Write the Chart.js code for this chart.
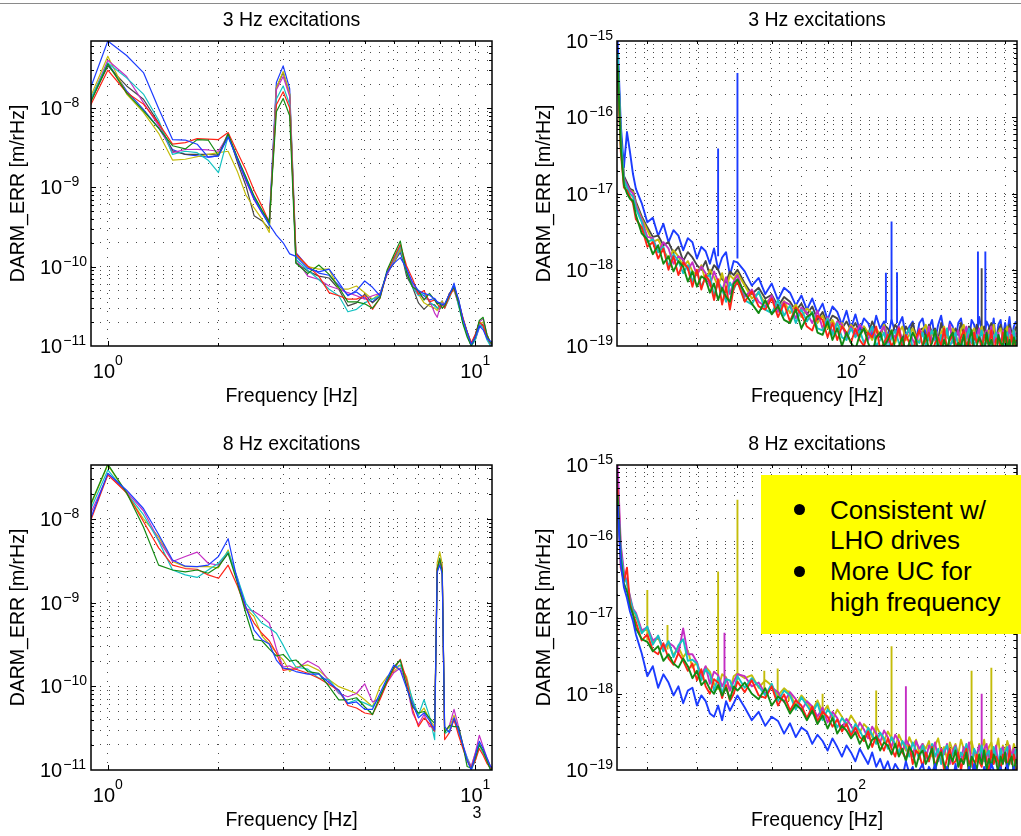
<!DOCTYPE html>
<html>
<head>
<meta charset="utf-8">
<script src="https://cdn.jsdelivr.net/npm/chart.js@4.4.1/dist/chart.umd.min.js"></script>
<style>
  body { margin: 0; background: #fff; width: 1021px; height: 836px; overflow: hidden; position: relative;
         font-family: "Liberation Sans", Arial, Helvetica, sans-serif; }
  canvas { position: absolute; left: 0; top: 0; }
  #rule { position: absolute; left: 0; top: 3px; width: 1021px; height: 1px; background: #8a8a8a; }
  #note { position: absolute; left: 761px; top: 475px; width: 260px; height: 159px; background: #ffff00; }
  #note .dot { position: absolute; left: 33px; width: 11px; height: 11px; border-radius: 50%; background: #000; }
  #note .ln { position: absolute; left: 69px; font-size: 26px; line-height: 30px; white-space: nowrap; color: #000; }
</style>
</head>
<body>
<div id="rule"></div>
<canvas id="tl" width="1021" height="836"></canvas>
<canvas id="tr" width="1021" height="836"></canvas>
<canvas id="bl" width="1021" height="836"></canvas>
<canvas id="br" width="1021" height="836"></canvas>
<div id="note">
  <div class="dot" style="top:29px"></div>
  <div class="dot" style="top:91px"></div>
  <div class="ln" style="top:20px">Consistent w/</div>
  <div class="ln" style="top:50px">LHO drives</div>
  <div class="ln" style="top:81px">More UC for</div>
  <div class="ln" style="top:112px">high frequency</div>
</div>
<script>
// ---- low frequency panels: frequency bins [Hz], amplitudes in units of 1e-11 m/rHz
const freqLow = [0.875, 1, 1.125, 1.25, 1.375, 1.5, 1.625, 1.75, 1.875, 2,
  2.125, 2.25, 2.375, 2.5, 2.625, 2.75, 2.875, 3, 3.125, 3.25,
  3.5, 3.75, 4, 4.25, 4.5, 4.75, 5, 5.25, 5.5, 5.75,
  6, 6.25, 6.5, 6.75, 7, 7.25, 7.5, 7.75, 7.875, 8,
  8.125, 8.25, 8.5, 8.75, 9, 9.25, 9.5, 9.75, 10, 10.25,
  10.5, 10.75, 11, 11.25];

// 3 Hz excitations
const tlBlueRef = [1300, 7000, 4600, 2800, 985, 400, 395, 350, 240, 250,
  430, 230, 125, 72, 48, 34, 25, 20, 14.5, 13.5,
  9.5, 8.6, 9.3, 6.3, 4.3, 5.0, 6.6, 5.5, 4.3, 8.5,
  11, 13, 9.5, 6.3, 5.0, 4.6, 4.4, 3.9, 3.6, 3.5,
  3.3, 3.4, 4.5, 5.8, 3.9, 2.2, 1.5, 1.05, 1.3, 1.8,
  1.6, 1.25, 1.15, 1.1];
const tlGreen = [900, 3600, 1550, 920, 560, 335, 305, 400, 395, 250,
  470, 240, 135, 78, 52, 36, 900, 1320, 800, 11,
  8.2, 10.5, 8, 5.5, 3.6, 3.6, 3.4, 3.0, 4.0, 9.0,
  14, 21, 8.5, 5.5, 5.0, 3.8, 4.6, 3.8, 3.4, 3.5,
  3.0, 3.2, 4.5, 5.5, 3.5, 1.9, 1.3, 1.0, 1.3, 2.1,
  2.3, 1.4, 1.1, 1.0];
const tlRed = [850, 3000, 1570, 1120, 640, 350, 366, 411, 405, 400,
  490, 280, 165, 92, 58, 36, 1100, 1600, 1000, 14.5,
  10.2, 7.6, 4.7, 4.3, 3.9, 3.9, 4.3, 2.9, 4.0, 8.5,
  13, 19, 10.2, 7.0, 4.5, 5.0, 3.6, 3.8, 3.4, 3.1,
  3.3, 3.0, 4.2, 5.4, 3.6, 2.3, 1.5, 1.1, 1.4, 2.0,
  1.8, 1.3, 1.1, 1.1];
const tlCyan = [1000, 3700, 2400, 1500, 700, 260, 285, 274, 220, 153,
  440, 235, 135, 75, 50, 33, 1300, 1900, 1100, 12.4,
  9, 6.9, 5.2, 4.3, 2.7, 2.9, 3.5, 3.9, 4.3, 8.4,
  12.4, 18, 8.4, 5.5, 4.3, 4.6, 3.6, 3.2, 3.0, 3.3,
  3.4, 3.0, 4.0, 5.8, 3.2, 2.0, 1.4, 1.0, 1.2, 1.9,
  1.7, 1.2, 1.0, 1.1];
const tlMagenta = [950, 4000, 2500, 1170, 600, 274, 300, 302, 296, 285,
  455, 235, 120, 70, 48, 34, 1700, 2500, 1400, 12.4,
  7.6, 6.9, 5.7, 5.2, 4.7, 4.3, 3.9, 4.3, 4.6, 8.0,
  12, 18, 9, 5.8, 4.5, 4.0, 3.8, 2.6, 2.3, 3.0,
  3.5, 3.2, 4.6, 5.2, 3.3, 2.1, 1.4, 1.0, 1.3, 2.0,
  2.2, 1.4, 1.05, 1.1];
const tlYellow = [1050, 4500, 1500, 880, 480, 221, 226, 243, 260, 274,
  285, 160, 80, 55, 40, 27, 1800, 2900, 1500, 14,
  10, 9.3, 9.3, 5.2, 5.2, 5.7, 4.7, 3.9, 4.6, 8.2,
  11.2, 16.6, 9.3, 5.6, 4.5, 3.5, 3.2, 3.0, 2.8, 3.3,
  3.7, 3.1, 4.6, 5.0, 3.4, 2.2, 1.5, 1.1, 1.2, 1.9,
  2.0, 1.4, 1.1, 1.0];
const tlGray = [950, 3400, 1900, 1290, 650, 288, 261, 261, 261, 255,
  480, 210, 105, 44, 38, 30, 1800, 2800, 1500, 11.2,
  8.8, 7.6, 7.2, 5.2, 3.2, 3.5, 4.5, 3.5, 4.2, 8.5,
  11, 16.6, 7.6, 5.5, 3.5, 2.9, 3.4, 3.3, 3.0, 2.9,
  3.3, 3.2, 4.6, 5.5, 3.8, 2.2, 1.5, 1.05, 1.4, 2.0,
  1.8, 1.3, 1.0, 1.0];
const tlBlue = [950, 3700, 1650, 960, 560, 300, 260, 250, 240, 250,
  450, 225, 125, 72, 50, 38, 2100, 3400, 1750, 15,
  10, 8.3, 7.8, 5.8, 4.4, 4.8, 4.0, 3.6, 4.4, 8.0,
  11.5, 15, 9, 5.8, 4.8, 4.3, 3.8, 4.0, 3.6, 3.4,
  3.7, 3.2, 4.3, 6.2, 3.6, 2.0, 1.4, 1.0, 1.2, 1.7,
  1.9, 1.3, 1.05, 1.2];

// 8 Hz excitations
const blBlue = [750, 3500, 2200, 1330, 650, 323, 272, 269, 280, 355,
  580, 186, 89, 47, 36, 32, 20.6, 16.5, 16, 15,
  14, 14, 11, 9, 6.2, 6.5, 5.3, 5.3, 8.2, 12.5,
  18, 15.5, 9.5, 6.2, 4.2, 4.8, 3.9, 3.0, 230, 280,
  220, 3.3, 2.8, 4.2, 3.0, 2.0, 1.3, 1.0, 1.5, 2.2,
  1.8, 1.4, 1.1, 1.0];
const blGreen = [1150, 4500, 2050, 800, 280, 245, 233, 245, 224, 269,
  388, 175, 74, 36, 35, 28, 23, 24, 20, 20.6,
  15, 14.3, 9.9, 6.9, 6.9, 7.3, 5.7, 4.6, 7.5, 11.5,
  17, 20.6, 9.9, 5.7, 4.8, 5.0, 4.2, 3.6, 250, 340,
  240, 2.8, 3.4, 3.3, 3.3, 2.0, 1.1, 1.05, 1.4, 2.0,
  1.7, 1.3, 1.0, 1.05];
const blRed = [700, 3350, 2050, 930, 450, 280, 255, 250, 214, 195,
  280, 160, 85, 57, 43, 35, 25, 15.5, 16, 16,
  14.3, 12.5, 10.5, 9, 5.9, 5.5, 4.8, 4.6, 6.9, 11,
  16, 21, 11.9, 5.3, 3.3, 4.2, 3.6, 2.9, 260, 320,
  250, 2.3, 2.8, 4.0, 2.6, 1.8, 1.3, 1.05, 1.3, 1.8,
  1.5, 1.2, 1.05, 1.0];
const blCyan = [1000, 3840, 2024, 1120, 540, 245, 214, 200, 245, 295,
  405, 200, 98, 74, 57, 50, 43, 31, 22, 17,
  16, 12.5, 12, 8.5, 6.3, 6.9, 6.3, 5.7, 7.5, 12,
  16.5, 18, 12, 6.9, 4.5, 6.9, 4.4, 2.3, 240, 300,
  240, 2.7, 3.0, 4.0, 2.8, 1.9, 1.4, 1.0, 1.3, 2.0,
  1.6, 1.3, 1.0, 1.0];
const blMagenta = [900, 3350, 2100, 1250, 560, 310, 355, 400, 295, 280,
  390, 200, 85, 78, 68, 57, 28, 17, 17.5, 16,
  20, 17, 11.5, 8.2, 7.5, 8.2, 10.7, 6.5, 7.2, 11,
  14.5, 16.5, 10.5, 4.8, 3.5, 4.6, 3.3, 3.3, 250, 330,
  260, 2.9, 3.4, 5.3, 3.3, 2.0, 1.4, 1.1, 1.6, 2.6,
  1.9, 1.4, 1.1, 1.05];
const blYellow = [1100, 4400, 2000, 1000, 610, 310, 269, 269, 269, 260,
  425, 186, 85, 68, 40, 32, 25, 20.6, 15, 17,
  18, 15.5, 12, 9.9, 9.0, 8.2, 6.9, 5.7, 9.9, 13,
  15, 18, 13, 6.5, 4.6, 5.5, 4.0, 3.3, 300, 405,
  290, 3.0, 3.2, 4.5, 3.0, 1.9, 1.3, 1.1, 1.6, 2.1,
  1.6, 1.25, 1.05, 1.0];

// ---- high frequency panels: frequency [Hz], amplitudes in units of 1e-20 m/rHz
const freqHigh = [35, 35.5, 36, 36.5, 37, 37.5, 38,
  39, 40, 41, 42, 43, 44, 45, 46, 47, 48, 49, 50, 51, 52, 53, 54, 55, 56, 57, 58, 59, 60,
  62, 64, 66, 68, 70, 72, 74, 76, 78, 80, 82,
  84, 86, 88, 90, 92, 94, 96, 98, 100,
  102, 104, 106, 108, 110, 112, 114, 116, 118,
  120, 122, 124, 126, 128, 130, 132, 134, 136, 138,
  140, 142, 144, 146, 148, 150, 152, 154, 156, 158,
  160, 162, 164, 166, 168, 170, 172, 174, 176, 178,
  180, 182, 184, 186, 188, 190, 192, 194, 196, 198,
  200, 202, 204, 206, 208, 210];

// 3 Hz excitations
const trGreen = [50000, 4000, 1300, 1000, 850, 800, 520,
  300, 250, 160, 210, 120, 150, 95, 130, 110, 70, 95, 60, 82, 75, 50, 66, 40, 58, 44, 38, 66, 75,
  50, 36, 27, 40, 26, 33, 22, 20, 30, 17, 24,
  27, 15, 14, 21, 12, 17, 10, 15, 11,
  9, 14, 17, 11, 8, 13, 15, 10, 12,
  16, 9, 10, 13, 8, 11, 15, 12, 7, 10,
  14, 9, 11, 16, 10, 8, 12, 9, 13, 15,
  8, 11, 10, 14, 7, 12, 16, 9, 10, 13,
  11, 8, 15, 10, 12, 9, 7, 14, 11, 10,
  16, 9, 12, 8, 13, 10];
const trRed = [40000, 3500, 1200, 1100, 900, 750, 460,
  360, 200, 230, 140, 190, 100, 150, 85, 125, 105, 60, 100, 55, 85, 70, 40, 75, 35, 60, 30, 58, 70,
  38, 52, 33, 30, 42, 24, 36, 21, 32, 26, 18,
  16, 25, 22, 13, 20, 12, 18, 15, 11,
  17, 12, 10, 15, 13, 18, 9, 11, 14,
  10, 12, 17, 9, 14, 11, 8, 13, 16, 10,
  12, 15, 8, 11, 13, 10, 17, 9, 12, 14,
  11, 9, 13, 16, 10, 12, 8, 15, 11, 13,
  9, 14, 12, 10, 16, 8, 12, 13, 9, 15,
  11, 13, 8, 14, 10, 12];
const trCyan = [70000, 6000, 1500, 1200, 1000, 900, 640,
  420, 230, 250, 170, 200, 110, 160, 130, 90, 115, 70, 95, 60, 80, 85, 45, 70, 56, 38, 68, 55, 72,
  40, 35, 52, 30, 27, 40, 25, 34, 20, 30, 21,
  28, 17, 16, 23, 14, 20, 13, 12, 17,
  13, 16, 11, 14, 18, 10, 12, 15, 9,
  13, 16, 11, 10, 14, 17, 9, 12, 11, 15,
  10, 13, 16, 12, 9, 14, 11, 17, 10, 12,
  15, 10, 12, 9, 13, 17, 11, 10, 14, 12,
  16, 10, 11, 14, 9, 13, 15, 11, 12, 8,
  13, 15, 10, 12, 16, 11];
const trMagenta = [60000, 5000, 1600, 1300, 1100, 1000, 700,
  450, 270, 260, 170, 230, 190, 120, 150, 135, 100, 125, 85, 110, 90, 62, 95, 70, 52, 80, 48, 70, 85,
  44, 55, 38, 33, 46, 28, 38, 35, 23, 32, 27,
  20, 29, 17, 24, 15, 21, 19, 13, 18,
  14, 19, 16, 12, 17, 13, 15, 18, 11,
  15, 13, 18, 11, 14, 16, 12, 10, 17, 14,
  12, 18, 11, 15, 13, 10, 16, 14, 19, 11,
  13, 16, 10, 14, 18, 12, 11, 15, 13, 17,
  10, 14, 16, 12, 18, 11, 13, 15, 10, 16,
  14, 11, 17, 13, 12, 15];
const trYellow = [55000, 4500, 1400, 1250, 1100, 1050, 720,
  470, 330, 230, 250, 180, 140, 180, 150, 110, 130, 95, 85, 115, 70, 100, 80, 60, 90, 55, 85, 75, 90,
  62, 42, 50, 36, 44, 30, 39, 27, 35, 24, 31,
  27, 20, 25, 17, 22, 16, 20, 14, 19,
  16, 13, 18, 15, 12, 17, 14, 19, 13,
  16, 11, 15, 18, 12, 14, 17, 13, 11, 16,
  19, 12, 14, 16, 11, 15, 18, 13, 12, 17,
  14, 11, 16, 19, 13, 12, 15, 17, 11, 14,
  18, 12, 13, 16, 14, 19, 11, 15, 17, 12,
  15, 18, 12, 14, 16, 13];
const trGray = [65000, 6000, 1700, 1400, 1150, 1100, 780,
  500, 360, 270, 280, 210, 230, 165, 200, 130, 170, 145, 115, 100, 130, 85, 115, 100, 75, 68, 95, 85, 100,
  66, 48, 58, 42, 47, 33, 44, 38, 29, 36, 26,
  33, 22, 28, 19, 25, 23, 17, 21, 16,
  20, 15, 18, 14, 21, 16, 13, 19, 17,
  14, 19, 16, 12, 18, 15, 20, 13, 16, 17,
  13, 19, 15, 17, 12, 20, 14, 16, 18, 13,
  17, 14, 20, 15, 13, 18, 16, 12, 19, 15,
  14, 18, 13, 17, 20, 15, 12, 16, 19, 14,
  17, 13, 19, 15, 14, 18];
const trBlue = [100000, 8000, 2200, 6400, 3500, 1800, 1150,
  750, 420, 480, 280, 400, 230, 330, 280, 180, 260, 230, 140, 200, 175, 120, 190, 100, 145, 170, 85, 130, 125,
  95, 62, 78, 48, 66, 40, 58, 50, 34, 46, 30,
  42, 27, 36, 22, 33, 28, 19, 29, 17,
  26, 16, 23, 20, 14, 25, 17, 21, 13,
  22, 15, 19, 24, 13, 18, 21, 12, 20, 23,
  14, 17, 22, 12, 19, 25, 15, 13, 21, 18,
  12, 20, 23, 14, 17, 11, 22, 19, 13, 24,
  16, 12, 21, 18, 14, 23, 11, 19, 22, 13,
  20, 15, 24, 12, 18, 21];
// narrow lines: frequency, peak, level of the floor under it
const trLineFreq = [55, 60, 117, 120, 123, 177, 183];
const trLineTop = [3900, 38000, 91, 430, 93, 173, 173];
const trLineBase = [150, 140, 20, 20, 20, 17, 17];
const trGrayLineFreq = [180];
const trGrayLineTop = [105];
const trGrayLineBase = [15];

// 8 Hz excitations
const brBlue = [30000, 5000, 2500, 1800, 1200, 900, 600,
  340, 170, 230, 120, 180, 140, 95, 125, 75, 110, 120, 70, 95, 80, 55, 50, 70, 45, 80, 60, 75, 95,
  66, 45, 58, 38, 50, 44, 30, 41, 27, 36, 32,
  22, 29, 24, 18, 26, 20, 15, 21, 17,
  13, 19, 15, 12, 17, 11, 14, 10, 13,
  9, 12, 10, 8, 13, 9, 11, 7, 10, 12,
  8, 11, 9, 12, 7, 10, 8, 11, 9, 7,
  12, 8, 10, 9, 7, 11, 8, 12, 9, 10,
  7, 11, 9, 8, 12, 10, 7, 9, 11, 8,
  10, 12, 8, 9, 11, 7];
const brGreen = [40000, 6000, 2800, 2200, 1400, 1100, 720,
  520, 480, 360, 420, 270, 330, 250, 220, 290, 230, 160, 200, 130, 150, 115, 100, 130, 95, 120, 85, 125, 110,
  140, 100, 85, 118, 70, 92, 80, 55, 72, 62, 45,
  60, 40, 52, 35, 48, 30, 38, 33, 26,
  31, 22, 28, 19, 25, 27, 18, 23, 21,
  16, 22, 15, 19, 13, 20, 17, 11, 16, 18,
  12, 15, 19, 10, 14, 17, 12, 9, 16, 13,
  18, 11, 14, 12, 17, 9, 15, 13, 10, 16,
  12, 18, 10, 14, 11, 16, 13, 9, 15, 12,
  17, 10, 13, 15, 9, 14];
const brRed = [50000, 4500, 3000, 4500, 1500, 1100, 870,
  500, 600, 370, 330, 460, 290, 240, 340, 270, 200, 250, 150, 210, 125, 100, 155, 140, 88, 130, 80, 100, 145,
  105, 150, 95, 88, 125, 70, 98, 60, 82, 70, 48,
  68, 44, 58, 50, 37, 46, 32, 40, 28,
  36, 27, 24, 32, 20, 28, 23, 18, 26,
  19, 15, 23, 17, 14, 21, 12, 18, 16, 11,
  17, 13, 20, 11, 15, 18, 10, 14, 19, 12,
  13, 17, 10, 15, 19, 12, 14, 9, 16, 13,
  11, 17, 14, 9, 18, 12, 15, 13, 10, 16,
  14, 11, 18, 12, 16, 10];
const brCyan = [45000, 7000, 3500, 2800, 1800, 1250, 1100,
  620, 760, 440, 580, 360, 490, 300, 430, 520, 270, 280, 250, 150, 210, 180, 110, 165, 100, 155, 150, 110, 170,
  120, 160, 125, 95, 135, 80, 110, 95, 62, 90, 70,
  55, 75, 45, 62, 52, 36, 48, 41, 30,
  40, 33, 25, 36, 29, 22, 31, 26, 19,
  27, 22, 17, 24, 20, 15, 23, 18, 14, 21,
  17, 13, 22, 15, 19, 12, 18, 21, 14, 16,
  20, 12, 17, 15, 22, 13, 11, 19, 16, 14,
  21, 13, 16, 18, 11, 20, 15, 12, 19, 14,
  17, 20, 12, 16, 14, 19];
const brMagenta = [100000, 9000, 4000, 2900, 1900, 1300, 1150,
  680, 740, 500, 560, 400, 470, 420, 340, 720, 330, 330, 260, 170, 230, 135, 195, 175, 125, 160, 110, 145, 180,
  170, 125, 140, 100, 120, 105, 78, 105, 85, 60, 80,
  68, 50, 66, 42, 58, 48, 35, 47, 38,
  30, 42, 34, 26, 37, 30, 23, 33, 27,
  20, 29, 24, 17, 25, 21, 15, 24, 19, 22,
  14, 21, 18, 23, 13, 19, 16, 22, 12, 18,
  21, 15, 13, 20, 17, 23, 12, 18, 16, 21,
  14, 19, 22, 13, 17, 15, 21, 11, 18, 20,
  13, 17, 21, 15, 19, 12];
const brYellow = [60000, 8000, 3600, 3000, 1700, 1300, 1050,
  660, 700, 480, 540, 380, 450, 320, 410, 300, 370, 220, 260, 155, 225, 195, 135, 115, 180, 165, 110, 170, 185,
  160, 175, 120, 150, 128, 95, 118, 100, 70, 95, 78,
  60, 82, 56, 70, 45, 62, 50, 38, 52,
  42, 31, 40, 35, 27, 38, 30, 24, 32,
  26, 20, 29, 23, 18, 27, 21, 25, 16, 22,
  19, 24, 15, 21, 26, 17, 20, 14, 23, 18,
  22, 16, 25, 19, 14, 21, 24, 17, 13, 22,
  18, 25, 15, 20, 23, 16, 19, 26, 14, 21,
  17, 24, 19, 15, 22, 18];
const brLineFreq = [40, 43.8, 55, 60, 67.7, 71.9, 75.6, 88, 112, 120, 172, 188];
const brLineTop = [2300, 800, 4000, 35000, 200, 215, 110, 100, 110, 420, 200, 220];
const brLineBase = [500, 380, 140, 150, 110, 92, 80, 50, 27, 24, 16, 16];
const brMagLineFreq = [56.6, 128, 180];
const brMagLineTop = [630, 125, 100];
const brMagLineBase = [135, 21, 16];

// tick labels (powers of ten)
const lowFreqDecades = [0, 1];
const highFreqDecades = [2];
const lowAmpDecades = [-11, -10, -9, -8];
const highAmpDecades = [-19, -18, -17, -16, -15];

const W = 1021, H = 836;
const LOW_UNIT = 1e-11, HIGH_UNIT = 1e-20;
const FONT = '"Liberation Sans", Arial, Helvetica, sans-serif';
const col = {
  blue: '#1c3cff', green: '#138a13', red: '#ff2417', cyan: '#14c2c2',
  magenta: '#c42ec4', yellow: '#c4bc0a', gray: '#464646'
};

function logGrid(lo, hi) {
  const out = [];
  for (let e = Math.floor(Math.log10(lo)); e <= Math.ceil(Math.log10(hi)); e++) {
    for (let m = 1; m <= 9; m++) {
      const v = m * Math.pow(10, e);
      if (v > lo * 1.0001 && v < hi / 1.0001) out.push(v);
    }
  }
  return out;
}
function isDecade(v) {
  const l = Math.log10(v);
  return Math.abs(l - Math.round(l)) < 1e-6;
}

function lineSet(freqs, vals, unit, color, width) {
  return {
    data: freqs.map((f, i) => ({ x: f, y: vals[i] * unit })),
    borderColor: color, borderWidth: width, borderJoinStyle: 'round',
    pointRadius: 0, pointHoverRadius: 0, tension: 0, fill: false
  };
}
function spikeSet(freqs, tops, bases, unit, color, width) {
  const pts = [];
  freqs.forEach((f, i) => {
    pts.push({ x: f, y: bases[i] * unit }, { x: f, y: tops[i] * unit },
             { x: f, y: bases[i] * unit }, { x: f, y: null });
  });
  return { data: pts, borderColor: color, borderWidth: width, pointRadius: 0,
           pointHoverRadius: 0, tension: 0, fill: false, spanGaps: false };
}

function axisOpts(min, max, grid) {
  return {
    type: 'logarithmic', min, max,
    afterBuildTicks: s => { s.ticks = grid.map(v => ({ value: v })); },
    ticks: { display: false },
    grid: { display: true, drawTicks: false, color: '#4a4a4a', lineWidth: 1 },
    border: { display: false, dash: [1, 8] }
  };
}

function axesDecor(p) {
  return {
    id: 'decor_' + p.id,
    afterDraw(chart) {
      const ctx = chart.ctx, a = chart.chartArea;
      const xs = chart.scales.x, ys = chart.scales.y;
      ctx.save();
      // inward tick marks on all four sides
      ctx.strokeStyle = '#000';
      ctx.lineWidth = 1;
      ctx.beginPath();
      p.xGrid.forEach(v => {
        const x = Math.round(xs.getPixelForValue(v)) + 0.5;
        const len = isDecade(v) ? 5 : 3;
        ctx.moveTo(x, a.bottom); ctx.lineTo(x, a.bottom - len);
        ctx.moveTo(x, a.top); ctx.lineTo(x, a.top + len);
      });
      p.yGrid.forEach(v => {
        const y = Math.round(ys.getPixelForValue(v)) + 0.5;
        const len = isDecade(v) ? 5 : 3;
        ctx.moveTo(a.left, y); ctx.lineTo(a.left + len, y);
        ctx.moveTo(a.right, y); ctx.lineTo(a.right - len, y);
      });
      ctx.stroke();
      ctx.lineWidth = 1.5;
      ctx.strokeRect(a.left, a.top, a.right - a.left, a.bottom - a.top);

      ctx.fillStyle = '#000';
      ctx.textAlign = 'left';
      ctx.textBaseline = 'alphabetic';
      const big = '20px ' + FONT, small = '14px ' + FONT;
      p.xDecades.forEach(e => {
        const x = xs.getPixelForValue(Math.pow(10, e));
        const ex = String(e).replace('-', '\u2212');
        ctx.font = big; const w1 = ctx.measureText('10').width;
        ctx.font = small; const w2 = ctx.measureText(ex).width;
        const x0 = x - (w1 + w2) / 2;
        ctx.font = big; ctx.fillText('10', x0, a.bottom + 32);
        ctx.font = small; ctx.fillText(ex, x0 + w1, a.bottom + 19);
      });
      p.yDecades.forEach(e => {
        const y = ys.getPixelForValue(Math.pow(10, e));
        const ex = String(e).replace('-', '\u2212');
        ctx.font = big; const w1 = ctx.measureText('10').width;
        ctx.fillText('10', p.yTickX, y + 7);
        ctx.font = small; ctx.fillText(ex, p.yTickX + w1 + 1, y - 1);
      });

      const cx = (a.left + a.right) / 2;
      ctx.font = '19.5px ' + FONT;
      ctx.textAlign = 'center';
      ctx.fillText(p.title, cx, a.top - 15);
      ctx.fillText('Frequency [Hz]', cx, a.bottom + 56);
      ctx.save();
      ctx.translate(p.yLabelX, (a.top + a.bottom) / 2);
      ctx.rotate(-Math.PI / 2);
      ctx.textBaseline = 'middle';
      ctx.fillText('DARM_ERR [m/rHz]', 0, 0);
      ctx.restore();
      (p.extra || []).forEach(t => {
        ctx.font = t.font + ' ' + FONT;
        ctx.fillText(t.text, t.x, t.y);
      });
      ctx.restore();
    }
  };
}

function makeChart(p, datasets) {
  p.xGrid = logGrid(p.xMin, p.xMax);
  p.yGrid = logGrid(p.yMin, p.yMax);
  return new Chart(document.getElementById(p.id), {
    type: 'line',
    data: { datasets },
    options: {
      responsive: false, animation: false, devicePixelRatio: 1, events: [],
      layout: { padding: { left: p.area.left, top: p.area.top,
                           right: W - p.area.right, bottom: H - p.area.bottom } },
      plugins: { legend: { display: false }, tooltip: { enabled: false } },
      scales: {
        x: axisOpts(p.xMin, p.xMax, p.xGrid),
        y: axisOpts(p.yMin, p.yMax, p.yGrid)
      }
    },
    plugins: [axesDecor(p)]
  });
}

const L = (v, c) => lineSet(freqLow, v, LOW_UNIT, c, 1.2);
const R = (v, c) => lineSet(freqHigh, v, HIGH_UNIT, c, 1.9);

makeChart({ id: 'tl', title: '3 Hz excitations', area: { left: 91, top: 41, right: 492, bottom: 346 },
  xMin: 0.9, xMax: 11.1, yMin: 1e-11, yMax: 7e-8, xDecades: lowFreqDecades, yDecades: lowAmpDecades,
  yTickX: 40, yLabelX: 19 },
  [L(tlBlueRef, col.blue), L(tlGreen, col.green), L(tlRed, col.red), L(tlCyan, col.cyan),
   L(tlMagenta, col.magenta), L(tlYellow, col.yellow), L(tlGray, col.gray), L(tlBlue, col.blue)]);

makeChart({ id: 'tr', title: '3 Hz excitations', area: { left: 617, top: 41, right: 1017, bottom: 346 },
  xMin: 34.9, xMax: 211, yMin: 1e-19, yMax: 1e-15, xDecades: highFreqDecades, yDecades: highAmpDecades,
  yTickX: 566, yLabelX: 545 },
  [R(trGreen, col.green), R(trRed, col.red), R(trCyan, col.cyan), R(trMagenta, col.magenta),
   R(trYellow, col.yellow), R(trGray, col.gray),
   spikeSet(trGrayLineFreq, trGrayLineTop, trGrayLineBase, HIGH_UNIT, col.gray, 1.9),
   R(trBlue, col.blue),
   spikeSet(trLineFreq, trLineTop, trLineBase, HIGH_UNIT, col.blue, 1.9)]);

makeChart({ id: 'bl', title: '8 Hz excitations', area: { left: 91, top: 465, right: 492, bottom: 770 },
  xMin: 0.9, xMax: 11.1, yMin: 1e-11, yMax: 4.4e-8, xDecades: lowFreqDecades, yDecades: lowAmpDecades,
  yTickX: 40, yLabelX: 19, extra: [{ text: '3', x: 477, y: 818, font: '16px' }] },
  [L(blBlue, col.blue), L(blGreen, col.green), L(blRed, col.red), L(blCyan, col.cyan),
   L(blMagenta, col.magenta), L(blYellow, col.yellow)]);

makeChart({ id: 'br', title: '8 Hz excitations', area: { left: 617, top: 465, right: 1017, bottom: 770 },
  xMin: 34.9, xMax: 211, yMin: 1e-19, yMax: 1e-15, xDecades: highFreqDecades, yDecades: highAmpDecades,
  yTickX: 566, yLabelX: 545 },
  [R(brBlue, col.blue), R(brGreen, col.green), R(brRed, col.red), R(brCyan, col.cyan),
   R(brMagenta, col.magenta),
   spikeSet(brMagLineFreq, brMagLineTop, brMagLineBase, HIGH_UNIT, col.magenta, 1.9),
   R(brYellow, col.yellow),
   spikeSet(brLineFreq, brLineTop, brLineBase, HIGH_UNIT, col.yellow, 1.9)]);
</script>
</body>
</html>
